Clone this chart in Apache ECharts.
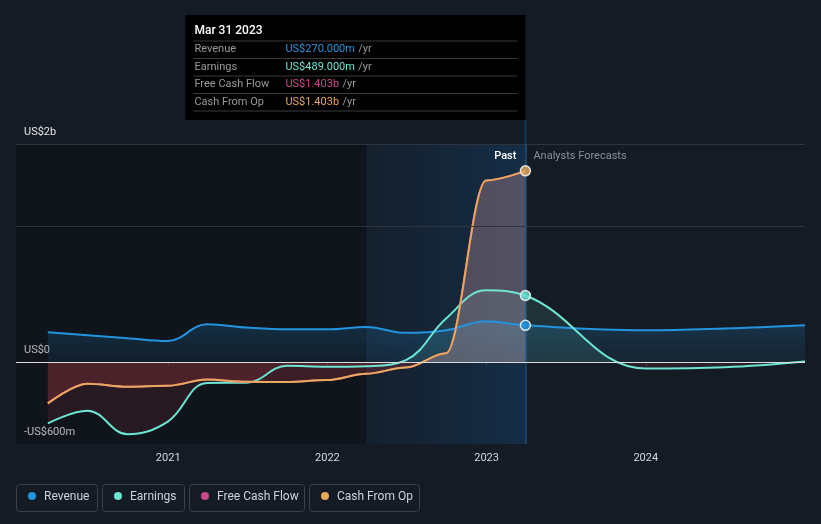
<!DOCTYPE html>
<html><head><meta charset="utf-8">
<script src="https://cdn.jsdelivr.net/npm/echarts@6/dist/echarts.min.js"></script>
<style>html,body{margin:0;padding:0;background:#151b24;}#c{width:821px;height:524px;}</style>
</head><body><div id="c"></div>
<script>
// ---------------- data ----------------
const pastDates = ['2020-03-31','2020-06-30','2020-09-30','2020-12-31','2021-03-31','2021-06-30','2021-09-30','2021-12-31','2022-03-31','2022-06-30','2022-09-30','2022-12-31','2023-03-31'];
const revenuePast  = [219, 198, 176, 156, 278, 254, 241, 241, 258, 215, 234, 300, 270];
const earningsPast = [-449, -356, -529, -436, -152, -150, -27, -34, -29, 15, 320, 527, 489];
const fcfPast      = [-302, -158, -180, -173, -127, -144, -146, -131, -85, -39, 66, 1333, 1403];
const cfoPast      = [-302, -158, -180, -173, -127, -144, -146, -131, -85, -39, 66, 1333, 1403];
const forecastDates    = ['2023-12-31','2024-06-30','2024-12-31'];
const revenueForecast  = [234, 247, 271];
const earningsForecast = [-46, -37, 5];
const seriesNames  = ['Revenue','Earnings','Free Cash Flow','Cash From Op'];
const seriesColors = ['#2394df','#6ce5d2','#c9478a','#e8a95b'];
const yTickValues = [-600, 0, 1600];
const yTickLabels = ['-US$600m','US$0','US$2b'];
const yGridValues = [1000, 1600];
const xTickDates  = ['2021-01-01','2022-01-01','2023-01-01','2024-01-01'];
const xTickLabels = ['2021','2022','2023','2024'];
const xMinDate = '2020-01-18', xMaxDate = '2024-12-31';
const yMin = -600, yMax = 1600;
const tooltipTitle = 'Mar 31 2023';
const tooltipValues = ['US$270.000m','US$489.000m','US$1.403b','US$1.403b'];
const pastLabel = 'Past', forecastLabel = 'Analysts Forecasts';

// ---------------- chart ----------------
const FONT = 'Roboto, "Noto Sans", sans-serif';
const chart = echarts.init(document.getElementById('c'), null, {renderer: 'canvas'});
const P = d => Date.parse(d + 'T00:00:00Z');
const xTickValues = xTickDates.map(P);
const pairs = (dates, vals) => dates.map((d, i) => [P(d), vals[i]]);
const allDates = pastDates.concat(forecastDates);
const last = pastDates.length - 1;
const lastX = P(pastDates[last]);
const bandStartX = P(pastDates[last - 4]);
const xMin = P(xMinDate), xMax = P(xMaxDate);

const lineBase = (id, name, color, data, z, smooth, mono) => ({
  id, name, type: 'line', data, z, smooth, smoothMonotone: mono, symbol: 'none',
  lineStyle: {color, width: 2}, itemStyle: {color}, silent: true
});

chart.setOption({
  backgroundColor: '#151b24',
  animation: false,
  textStyle: {fontFamily: FONT},
  grid: {left: 16, right: 16, top: 144, bottom: 80},
  xAxis: {
    type: 'value', min: xMin, max: xMax,
    axisLine: {lineStyle: {color: '#3a414c', width: 1}},
    axisTick: {show: true, customValues: xTickValues, length: 4, lineStyle: {color: '#3a414c'}},
    axisLabel: {customValues: xTickValues, formatter: v => { const i = xTickValues.indexOf(v); return i >= 0 ? xTickLabels[i] : ''; },
      color: '#d5d8dc', fontSize: 11, margin: 9, fontFamily: FONT},
    splitLine: {show: false}
  },
  yAxis: {
    type: 'value', min: yMin, max: yMax,
    axisLine: {show: false}, axisTick: {show: false}, splitLine: {show: false},
    axisLabel: {inside: true, customValues: yTickValues, margin: 8,
      formatter: v => { const i = yTickValues.indexOf(v); return i >= 0 ? yTickLabels[i] : ''; },
      verticalAlign: 'bottom', padding: [0, 0, 6, 0], color: '#e4e6e9', fontSize: 11, fontFamily: FONT}
  },
  series: [
    {id: 'bg', type: 'line', data: [], z: 1, silent: true,
      markArea: {silent: true, data: [
        [{xAxis: xMin, itemStyle: {color: 'rgba(0,0,0,0.22)'}}, {xAxis: bandStartX}],
        [{xAxis: bandStartX, itemStyle: {color: new echarts.graphic.LinearGradient(0, 0, 1, 0, [
          {offset: 0, color: 'rgba(20,110,190,0.06)'}, {offset: 1, color: 'rgba(20,120,210,0.2)'}])}}, {xAxis: lastX}]
      ]},
      markLine: {silent: true, symbol: 'none', label: {show: false},
        data: yGridValues.map(v => ({yAxis: v, lineStyle: {color: '#2d343f', width: 1, type: 'solid'}}))
          .concat([{xAxis: lastX, lineStyle: {color: 'rgba(40,110,170,0.45)', width: 2, type: 'solid'}}])}
    },
    lineBase('rev', seriesNames[0], seriesColors[0], pairs(allDates, revenuePast.concat(revenueForecast)), 2, 0.4, null),
    lineBase('earn', seriesNames[1], seriesColors[1], pairs(allDates, earningsPast.concat(earningsForecast)), 2, 0.4, null),
    lineBase('fcf', seriesNames[2], seriesColors[2], pairs(pastDates, fcfPast), 2, 0.35, 'x'),
    lineBase('cfo', seriesNames[3], seriesColors[3], pairs(pastDates, cfoPast), 2, 0.35, 'x'),
    {id: 'zero', type: 'line', data: [], z: 3, silent: true,
      markLine: {silent: true, symbol: 'none', label: {show: false},
        data: [{yAxis: 0, lineStyle: {color: '#d9dcdf', width: 1, type: 'solid'}}]}},
    {id: 'dots', type: 'scatter', z: 6, silent: true, symbolSize: 10,
      data: [
        {value: [lastX, revenuePast[last]], itemStyle: {color: seriesColors[0]}},
        {value: [lastX, earningsPast[last]], itemStyle: {color: seriesColors[1]}},
        {value: [lastX, cfoPast[last]], itemStyle: {color: seriesColors[3]}}
      ],
      itemStyle: {borderColor: '#ffffff', borderWidth: 1.5}}
  ]
});

// second pass: fills computed from the axis scale, overlays
const yPix = v => chart.convertToPixel({yAxisIndex: 0}, v);
const xPix = v => chart.convertToPixel({xAxisIndex: 0}, v);
const yz = yPix(0), yt = yPix(yMax), yb = yPix(yMin);
const f = (yz - yt) / (yb - yt);
const signFill = (pos, neg) => new echarts.graphic.LinearGradient(0, yt, 0, yb,
  [{offset: 0, color: pos}, {offset: f, color: pos}, {offset: f, color: neg}, {offset: 1, color: neg}], true);
const revTop = yPix(Math.max(...revenuePast, ...revenueForecast));

const xv = xPix(lastX);
const tipW = 340, tipH = 105, tipTop = 15, tipLeft = xv - tipW;
const rowY = [49.5, 67, 84.5, 102];
const sepY = [41, 58.5, 76, 93.5, 111];
const graphics = [];
graphics.push({type: 'rect', shape: {x: tipLeft, y: tipTop, width: tipW, height: tipH}, style: {fill: '#000000'}, z: 10});
graphics.push({type: 'text', x: tipLeft + 9, y: 31, z: 11, style: {text: tooltipTitle, fill: '#ffffff', font: '500 12px ' + FONT, textVerticalAlign: 'middle'}});
sepY.forEach(y => graphics.push({type: 'line', z: 11, shape: {x1: tipLeft + 8, y1: y, x2: tipLeft + tipW - 8, y2: y}, style: {stroke: '#3a3a3a', lineWidth: 1}}));
seriesNames.forEach((n, i) => {
  graphics.push({type: 'text', x: tipLeft + 9, y: rowY[i], z: 11, style: {text: n, fill: '#9a9a9a', font: '11px ' + FONT, textVerticalAlign: 'middle'}});
  graphics.push({type: 'text', x: tipLeft + 100, y: rowY[i], z: 11, style: {
    text: '{v|' + tooltipValues[i] + '} {u|/yr}', textVerticalAlign: 'middle',
    rich: {v: {fill: seriesColors[i], font: '11px ' + FONT}, u: {fill: '#9a9a9a', font: '11px ' + FONT}}}});
});
graphics.push({type: 'rect', z: 1, shape: {x: xv - 1, y: tipTop + tipH, width: 2, height: yt - (tipTop + tipH)}, style: {fill: 'rgba(40,110,170,0.35)'}});
graphics.push({type: 'text', x: xv - 9, y: 156, z: 11, style: {text: pastLabel, fill: '#ffffff', font: '500 11px ' + FONT, textAlign: 'right', textVerticalAlign: 'middle'}});
graphics.push({type: 'text', x: xv + 8, y: 156, z: 11, style: {text: forecastLabel, fill: '#8b9098', font: '11px ' + FONT, textAlign: 'left', textVerticalAlign: 'middle'}});
const legX = [16, 102, 189, 309], legW = [81, 82, 115, 110];
seriesNames.forEach((n, i) => {
  graphics.push({type: 'rect', z: 10, shape: {x: legX[i] + 0.5, y: 484.5, width: legW[i], height: 27, r: 3}, style: {fill: 'none', stroke: '#3b414b', lineWidth: 1}});
  graphics.push({type: 'circle', z: 11, shape: {cx: legX[i] + 16, cy: 496, r: 4}, style: {fill: seriesColors[i]}});
  graphics.push({type: 'text', x: legX[i] + 28, y: 496.5, z: 11, style: {text: n, fill: '#cfd3d8', font: '12px ' + FONT, textVerticalAlign: 'middle'}});
});

chart.setOption({
  series: [
    {id: 'rev', areaStyle: {origin: 0, color: new echarts.graphic.LinearGradient(0, revTop, 0, yz,
      [{offset: 0, color: 'rgba(35,148,223,0.30)'}, {offset: 1, color: 'rgba(35,148,223,0.10)'}], true)}},
    {id: 'earn', areaStyle: {origin: 0, color: signFill('rgba(108,229,210,0.16)', 'rgba(205,60,75,0.17)')}},
    {id: 'cfo', areaStyle: {origin: 0, color: signFill('rgba(215,158,162,0.45)', 'rgba(205,60,72,0.32)')}}
  ],
  graphic: {elements: graphics}
});
</script></body></html>
